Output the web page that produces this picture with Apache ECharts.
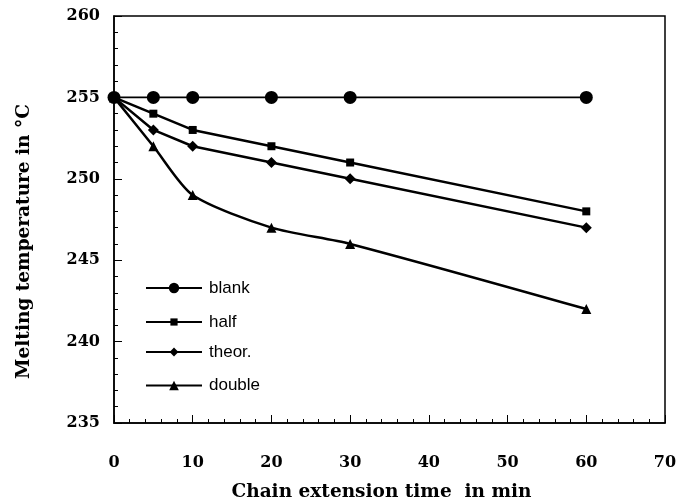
<!DOCTYPE html>
<html><head><meta charset="utf-8">
<script src="https://cdn.jsdelivr.net/npm/echarts@6/dist/echarts.min.js"></script>
<style>html,body{margin:0;padding:0;background:#fff}#c{width:677px;height:501px}</style>
</head><body><div id="c"></div>
<script>
const times = [0, 5, 10, 20, 30, 60];
const blank = [255, 255, 255, 255, 255, 255];
const half = [255, 254, 253, 252, 251, 248];
const theor = [255, 253, 252, 251, 250, 247];
const double_ = [255, 252, 249, 247, 246, 242];
const seriesNames = ['blank', 'half', 'theor.', 'double'];

const pair = arr => times.map((t, i) => [t, arr[i]]);
const axisFont = {fontFamily: 'DejaVu Serif', fontWeight: 'bold', fontSize: 16, color: '#000'};
const nameFont = {fontFamily: 'DejaVu Serif', fontWeight: 'bold', fontSize: 18.5, color: '#000'};
const chart = echarts.init(document.getElementById('c'));
const mk = (name, data, symbol, size, extra) => Object.assign({
  name, type: 'line', data: pair(data), symbol, symbolSize: size,
  itemStyle: {color: '#000'}, lineStyle: {color: '#000', width: 2.5}, animation: false
}, extra || {});
const legendTops = [274, 306, 337, 371];
const legendH = [13, 9, 11, 12];
const legends = seriesNames.map((n, i) => ({
  left: 140, top: legendTops[i] + (14 - legendH[i]) / 2, orient: 'vertical',
  itemWidth: 56, itemHeight: legendH[i], itemGap: 0,
  textStyle: {fontFamily: 'Liberation Sans', fontSize: 17, color: '#000', padding: [0, 0, 0, 2]},
  data: [n]
}));
chart.setOption({
  animation: false,
  grid: {left: 114, top: 16, right: 12, bottom: 78, show: true, borderColor: '#000', borderWidth: 1.5,
         outerBoundsMode: 'none', containLabel: false},
  legend: legends,
  xAxis: {
    type: 'value', min: 0, max: 70, interval: 10,
    name: 'Chain extension time  in min', nameLocation: 'middle', nameGap: 60,
    nameTextStyle: Object.assign({padding: [0, 16, 0, 0]}, nameFont),
    axisLine: {lineStyle: {color: '#000', width: 1.5}},
    axisTick: {inside: true, length: 8, lineStyle: {color: '#000'}},
    minorTick: {show: true, splitNumber: 5, length: 4, lineStyle: {color: '#000'}},
    splitLine: {show: false},
    axisLabel: Object.assign({margin: 32}, axisFont)
  },
  yAxis: {
    type: 'value', min: 235, max: 260, interval: 5,
    name: 'Melting temperature in °C', nameLocation: 'middle', nameGap: 80,
    nameTextStyle: Object.assign({padding: [0, 44, 0, 0]}, nameFont),
    axisLine: {show: true, lineStyle: {color: '#000', width: 1.5}},
    axisTick: {show: true, inside: true, length: 8, lineStyle: {color: '#000'}},
    minorTick: {show: true, splitNumber: 5, length: 4, lineStyle: {color: '#000'}},
    splitLine: {show: false},
    axisLabel: Object.assign({margin: 14, padding: [6, 0, 0, 0]}, axisFont)
  },
  series: [
    mk('blank', blank, 'circle', 13, {lineStyle: {color: '#000', width: 1.8}}),
    mk('half', half, 'rect', 8),
    mk('theor.', theor, 'diamond', 11),
    mk('double', double_, 'triangle', 10, {smooth: 0.25})
  ]
});
</script></body></html>
